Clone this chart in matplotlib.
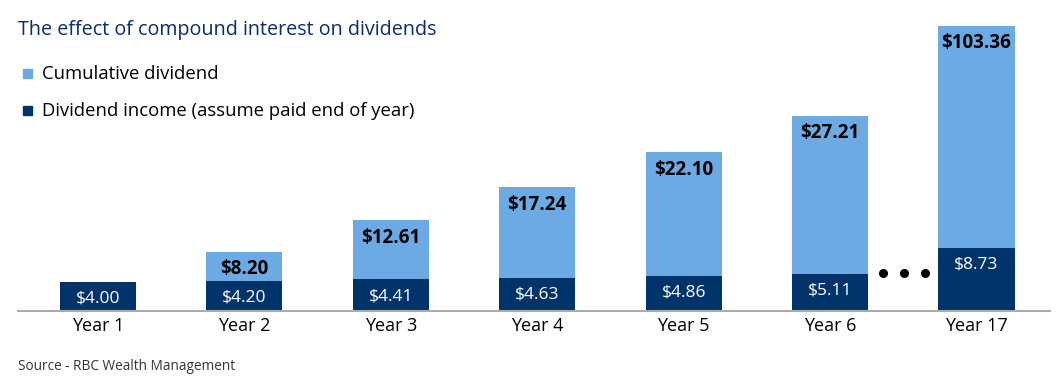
import matplotlib
matplotlib.use("Agg")
import matplotlib.pyplot as plt

# data
years = ["Year 1", "Year 2", "Year 3", "Year 4", "Year 5", "Year 6", "Year 17"]
income = [4.00, 4.20, 4.41, 4.63, 4.86, 5.11, 8.73]
cumulative = [4.00, 8.20, 12.61, 17.24, 22.10, 27.21, 103.36]
# the last bar is drawn on a broken scale (truncated)
display_cap = 39.7

LIGHT = "#6CAAE3"
NAVY = "#00336A"

plt.rcParams["font.family"] = ["Open Sans", "DejaVu Sans"]

fig = plt.figure(figsize=(10.62, 3.86), dpi=100)
ax = fig.add_axes([18 / 1062, 75 / 386, 1032 / 1062, 291 / 386])

x = list(range(len(years)))
shown = [min(c, display_cap) for c in cumulative]
light_h = [s - i for s, i in zip(shown, income)]

width = 0.52
ax.bar(x, income, width=width, color=NAVY, zorder=2)
ax.bar(x, light_h, bottom=income, width=width, color=LIGHT, zorder=2)

for xi, inc, cum, top in zip(x, income, cumulative, shown):
    ax.annotate(f"${inc:.2f}", (xi, inc), xytext=(0, -12), textcoords="offset points",
                ha="center", va="center", color="white", fontsize=12.5)
    if cum > inc:
        ax.annotate(f"${cum:.2f}", (xi, top), xytext=(0, -12.5), textcoords="offset points",
                    ha="center", va="center", color="black", fontsize=13.5,
                    fontweight="bold")

# ellipsis between Year 6 and Year 17
for xd in (5.36, 5.505, 5.645):
    ax.plot(xd, 5.3, "o", color="black", markersize=5.5, zorder=3)

ax.set_xlim(-0.546, 6.502)
ax.set_ylim(0, 291 / 7.18)
ax.set_xticks(x)
ax.set_xticklabels(years, fontsize=13)
ax.tick_params(axis="x", length=0, pad=4)
ax.set_yticks([])
for s in ("top", "right", "left"):
    ax.spines[s].set_visible(False)
ax.spines["bottom"].set_color("#ABABAB")
ax.spines["bottom"].set_linewidth(1.5)

fig.text(18 / 1062, 1 - 30 / 386, "The effect of compound interest on dividends",
         fontsize=14.2, color="#0B2D6B", va="center", ha="left")
fig.patches.append(plt.Rectangle((23 / 1062, 1 - 78 / 386), 9 / 1062, 9 / 386,
                                 color=LIGHT, transform=fig.transFigure))
fig.patches.append(plt.Rectangle((23 / 1062, 1 - 115 / 386), 9 / 1062, 9 / 386,
                                 color=NAVY, transform=fig.transFigure))
fig.text(42 / 1062, 1 - 74 / 386, "Cumulative dividend", fontsize=13.3,
         color="black", va="center", ha="left")
fig.text(42 / 1062, 1 - 111 / 386, "Dividend income (assume paid end of year)",
         fontsize=13.3, color="black", va="center", ha="left")
fig.text(18 / 1062, 1 - 366 / 386, "Source - RBC Wealth Management", fontsize=9.8,
         color="#333333", va="center", ha="left")

fig.savefig("out.png", dpi=100)
